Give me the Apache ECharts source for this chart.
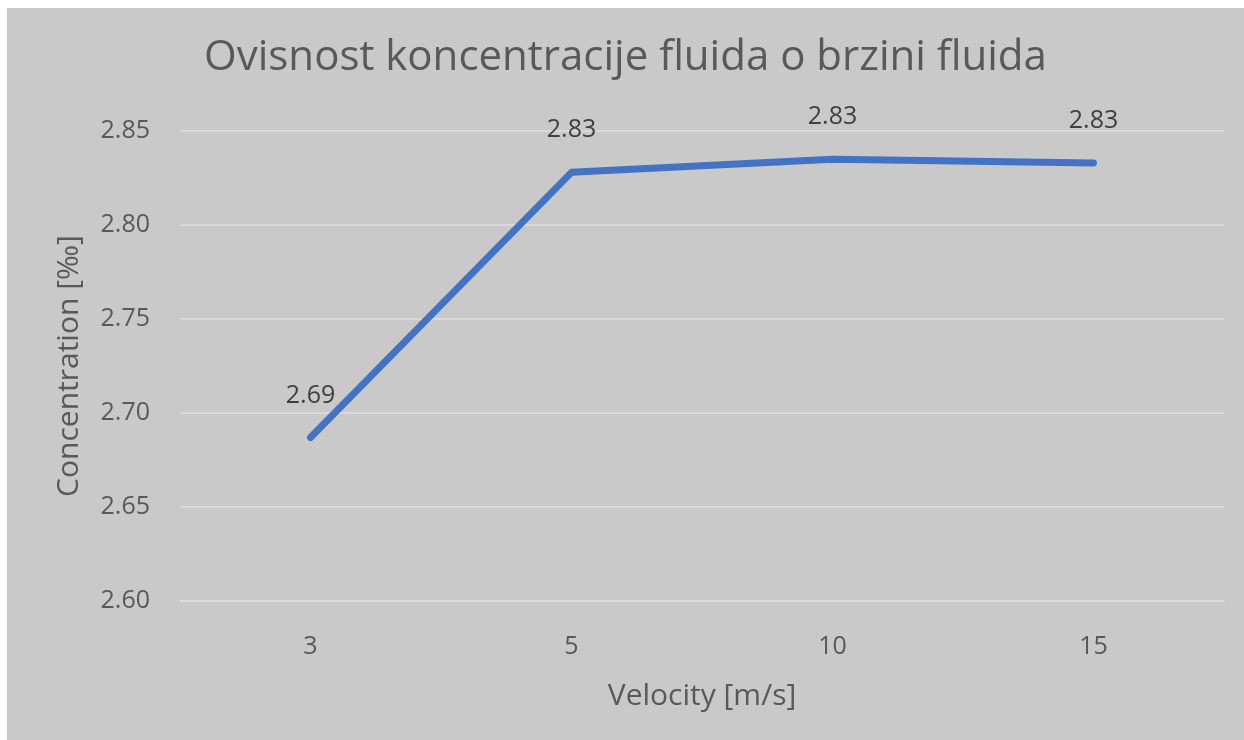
<!DOCTYPE html>
<html>
<head>
<meta charset="utf-8">
<script src="https://cdn.jsdelivr.net/npm/echarts@6/dist/echarts.min.js"></script>
<style>
  html, body { margin: 0; padding: 0; background: #ffffff; overflow: hidden; }
  #chart { position: absolute; left: 7px; top: 8px; width: 1237px; height: 732px; }
</style>
</head>
<body>
<div id="chart"></div>
<script>
// Velocity categories [m/s] and measured concentration [‰]
const velocities = ['3', '5', '10', '15'];
const concentration = [2.687, 2.828, 2.835, 2.833];
const concentrationLabels = ['2.69', '2.83', '2.83', '2.83'];

const titleText = 'Ovisnost koncentracije fluida o brzini fluida';
const xAxisName = 'Velocity [m/s]';
const yAxisName = 'Concentration [‰]';

const FONT = '"Open Sans", "Noto Sans", sans-serif';
const chart = echarts.init(document.getElementById('chart'));

chart.setOption({
  backgroundColor: '#c9c9c9',
  animation: false,
  title: {
    text: titleText,
    left: 'center',
    top: 24,
    textStyle: { fontFamily: FONT, fontSize: 42, fontWeight: 'normal', color: '#595959' }
  },
  grid: { left: 173, top: 123, width: 1044, height: 470, containLabel: false },
  xAxis: {
    type: 'category',
    data: velocities,
    boundaryGap: true,
    name: xAxisName,
    nameLocation: 'middle',
    nameGap: 80,
    nameTextStyle: { fontFamily: FONT, fontSize: 30, color: '#595959' },
    axisLine: { show: true, lineStyle: { color: '#dedede', width: 1.5 } },
    axisTick: { show: false },
    axisLabel: { fontFamily: FONT, fontSize: 25, color: '#595959', margin: 33 }
  },
  yAxis: {
    type: 'value',
    min: 2.60,
    max: 2.85,
    interval: 0.05,
    name: yAxisName,
    nameLocation: 'middle',
    nameGap: 96,
    nameTextStyle: { fontFamily: FONT, fontSize: 30, color: '#595959' },
    axisLine: { show: false },
    axisTick: { show: false },
    axisLabel: {
      fontFamily: FONT, fontSize: 25, color: '#595959', margin: 30,
      formatter: v => v.toFixed(2)
    },
    splitLine: { lineStyle: { color: '#dedede', width: 1.5 } }
  },
  series: [{
    type: 'line',
    data: concentration,
    symbol: 'circle',
    symbolSize: 1,
    showSymbol: true,
    itemStyle: { color: '#4472c4' },
    lineStyle: { color: '#4472c4', width: 7, cap: 'round', join: 'round' },
    label: {
      show: true,
      position: 'top',
      distance: 29,
      fontFamily: FONT,
      fontSize: 25,
      color: '#404040',
      formatter: p => concentrationLabels[p.dataIndex]
    }
  }]
});
</script>
</body>
</html>
